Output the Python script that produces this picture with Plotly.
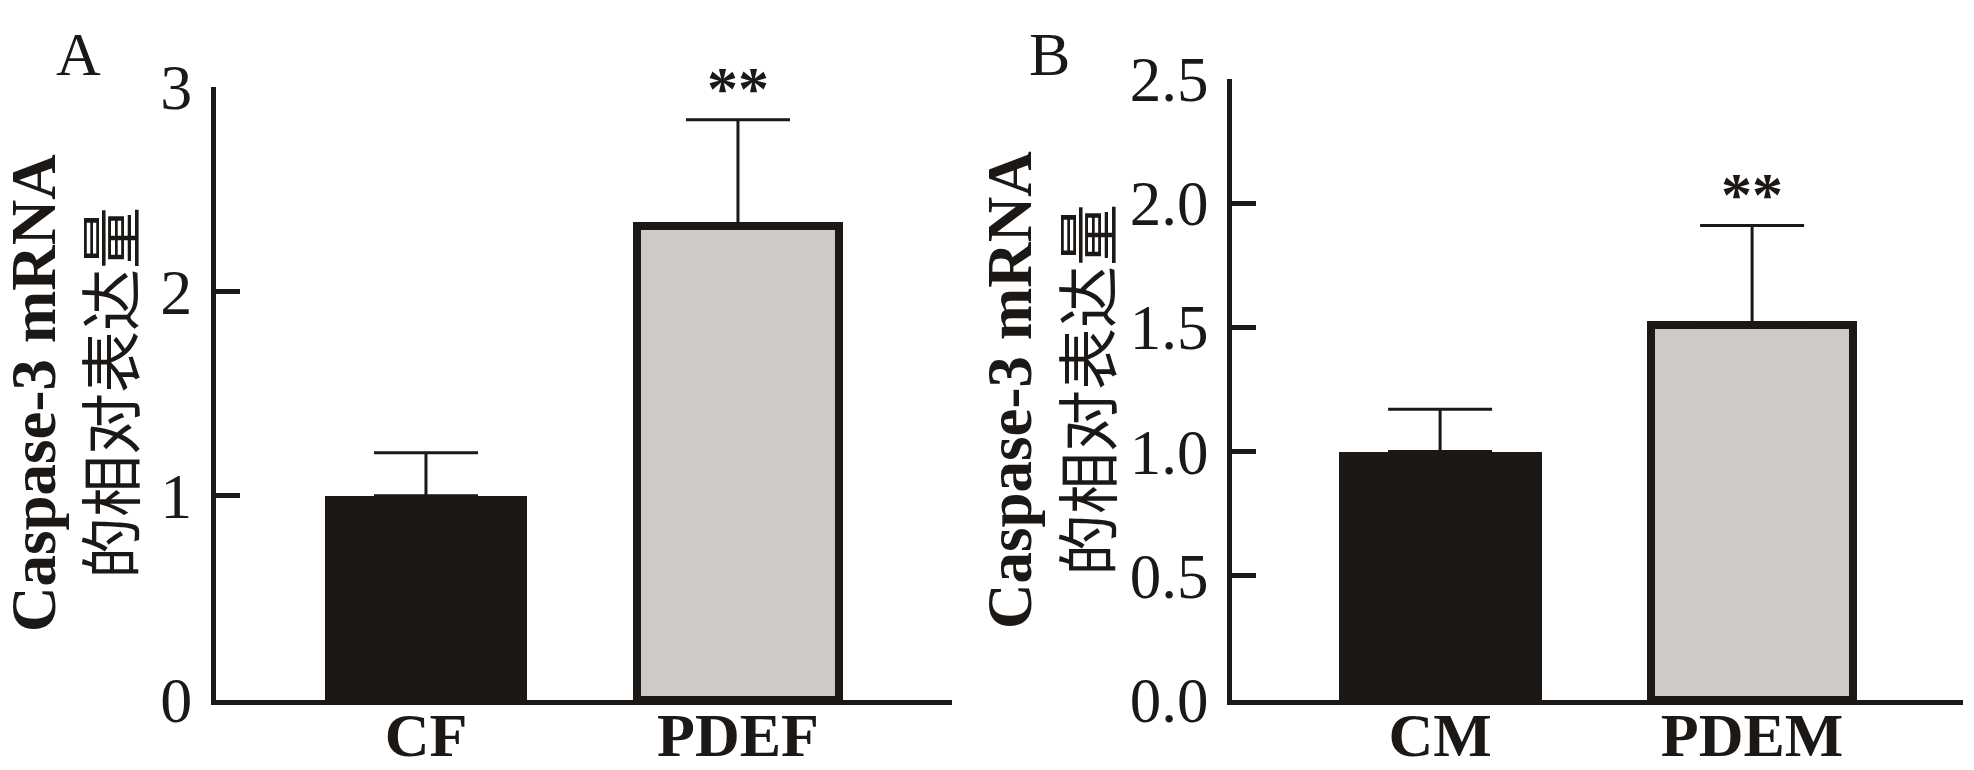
import plotly.graph_objects as go

# panel A
cats_a = ['CF', 'PDEF']
mean_a = [1.0, 2.32]
err_a = [0.21, 0.52]
# panel B
cats_b = ['CM', 'PDEM']
mean_b = [1.0, 1.51]
err_b = [0.17, 0.40]
sig_a = ['', '**']
sig_b = ['', '**']

serif = 'Liberation Serif'
cjk = 'Noto Sans CJK SC'
ink = '#1b1816'
grey = '#cfc9c7'

fig = go.Figure()

for cats, mean, err, xa, ya in [(cats_a, mean_a, err_a, 'x', 'y'),
                                (cats_b, mean_b, err_b, 'x2', 'y2')]:
    fig.add_trace(go.Bar(
        x=cats, y=mean, xaxis=xa, yaxis=ya, width=0.65,
        marker=dict(color=[ink, grey], line=dict(color=ink, width=[0, 8])),
        error_y=dict(type='data', array=err, arrayminus=[0, 0], symmetric=False,
                     color=ink, thickness=3, width=52),
        showlegend=False,
    ))

W, H = 1974, 770

def px(v):
    return v / W

def py(v):
    return 1 - v / H

axis_common = dict(showline=True, linecolor=ink, linewidth=5, showgrid=False,
                   zeroline=False, fixedrange=True, automargin=False)

fig.update_layout(
    width=W, height=H,
    margin=dict(l=0, r=0, t=0, b=0, autoexpand=False),
    plot_bgcolor='white', paper_bgcolor='white',
    bargap=0,
    xaxis=dict(domain=[px(216), px(952)], range=[-0.673, 1.686], anchor='y',
               ticks='', ticklabelstandoff=-23,
               tickfont=dict(family=serif, size=62, color=ink),
               tickprefix='<b>', ticksuffix='</b>', **axis_common),
    yaxis=dict(domain=[py(700), py(87)], range=[0, 3], anchor='x',
               tickvals=[0, 1, 2, 3], ticks='inside', ticklen=24, tickwidth=5,
               tickcolor=ink, ticklabelstandoff=6,
               tickfont=dict(family=serif, size=64, color=ink), **axis_common),
    xaxis2=dict(domain=[px(1232), px(1963)], range=[-0.667, 1.676], anchor='y2',
                ticks='', ticklabelstandoff=-23,
                tickfont=dict(family=serif, size=62, color=ink),
                tickprefix='<b>', ticksuffix='</b>', **axis_common),
    yaxis2=dict(domain=[py(700), py(79)], range=[0, 2.5], anchor='x2',
                tickvals=[0, 0.5, 1.0, 1.5, 2.0, 2.5], tickformat='.1f',
                ticks='inside', ticklen=24, tickwidth=5, tickcolor=ink,
                ticklabelstandoff=6,
                tickfont=dict(family=serif, size=63, color=ink), **axis_common),
)

# significance marks above the error bars
for cats, mean, err, sig, xr, yr in [(cats_a, mean_a, err_a, sig_a, 'x', 'y'),
                                     (cats_b, mean_b, err_b, sig_b, 'x2', 'y2')]:
    for c, m, e, s in zip(cats, mean, err, sig):
        if s:
            fig.add_annotation(x=c, y=m + e, xref=xr, yref=yr, text='<b>' + s + '</b>',
                               showarrow=False, yanchor='middle', yshift=32,
                               font=dict(family=serif, size=62, color=ink))

# panel letters and y titles
for letter, lx, t1x, t2x, cy in [('A', 78, 34, 108, 393), ('B', 1049, 1010, 1085, 390)]:
    fig.add_annotation(x=px(lx), y=py(54), xref='paper', yref='paper', text=letter,
                       xanchor='center', yanchor='middle', showarrow=False,
                       font=dict(family=serif, size=62, color=ink))
    fig.add_annotation(x=px(t1x), y=py(cy), xref='paper', yref='paper',
                       text='<b>Caspase-3 mRNA</b>', textangle=-90, showarrow=False,
                       xanchor='center', yanchor='middle',
                       font=dict(family=serif, size=63, color=ink))
    fig.add_annotation(x=px(t2x), y=py(cy), xref='paper', yref='paper',
                       text='的相对表达量', textangle=-90, showarrow=False,
                       xanchor='center', yanchor='middle',
                       font=dict(family=cjk, size=62, color=ink))

fig.write_html('out.html', config={'displayModeBar': False},
               post_script="document.body.style.margin='0';")
